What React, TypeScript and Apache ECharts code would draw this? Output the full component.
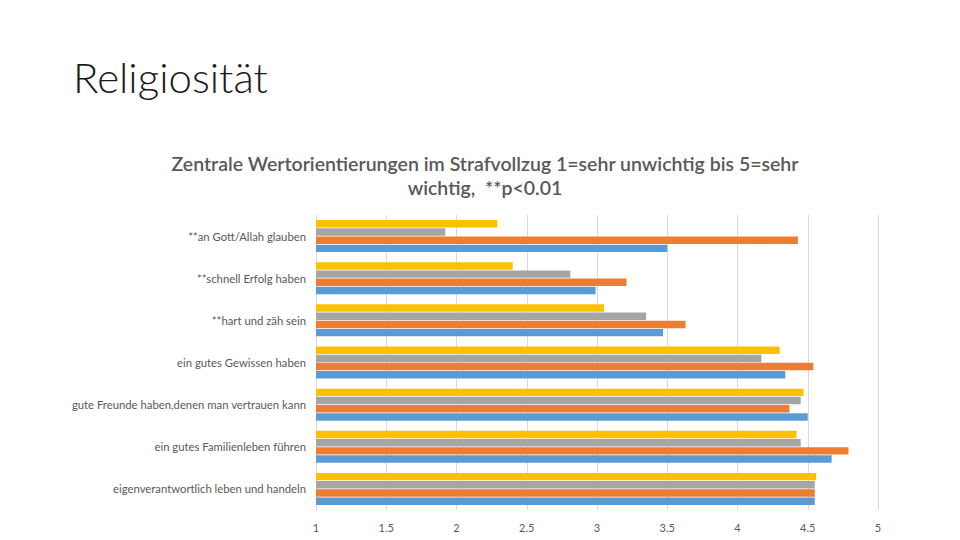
import React, { useEffect, useRef } from "react";
import * as echarts from "echarts";

const categories = [
  "**an Gott/Allah glauben",
  "**schnell Erfolg haben",
  "**hart und zäh sein",
  "ein gutes Gewissen haben",
  "gute Freunde haben,denen man vertrauen kann",
  "ein gutes Familienleben führen",
  "eigenverantwortlich leben und handeln",
];

const blueValues = [3.5, 2.99, 3.47, 4.34, 4.5, 4.67, 4.55];
const orangeValues = [4.43, 3.21, 3.63, 4.54, 4.37, 4.79, 4.55];
const grayValues = [1.92, 2.81, 3.35, 4.17, 4.45, 4.45, 4.55];
const yellowValues = [2.29, 2.4, 3.05, 4.3, 4.47, 4.42, 4.56];

const xTicks = { min: 1, max: 5, interval: 0.5 };

export default function App() {
  const ref = useRef<HTMLDivElement>(null);
  useEffect(() => {
    if (!ref.current) return;
    const chart = echarts.init(ref.current, null, { renderer: "svg" });
    const font = "Lato, 'Open Sans', sans-serif";
    const mk = (name: string, data: number[], color: string) => ({
      name,
      type: "bar",
      data,
      itemStyle: { color },
      barGap: "10%",
      barCategoryGap: "24%",
    });
    chart.setOption({
      animation: false,
      backgroundColor: "#ffffff",
      title: [
        {
          text: "Religiosität",
          left: 68,
          top: 51,
          textStyle: { fontFamily: font, fontSize: 42, fontWeight: 300, color: "#1a1a1a" },
        },
        {
          text: "Zentrale Wertorientierungen im Strafvollzug 1=sehr unwichtig bis 5=sehr\nwichtig,  **p<0.01",
          left: 480,
          top: 146,
          textAlign: "center",
          textStyle: {
            fontFamily: font,
            fontSize: 19.5,
            fontWeight: 600,
            color: "#595959",
            lineHeight: 24,
            align: "center",
          },
        },
      ],
      grid: { left: 316, right: 82, top: 215, bottom: 30, containLabel: false },
      xAxis: {
        type: "value",
        min: xTicks.min,
        max: xTicks.max,
        interval: xTicks.interval,
        axisLine: { show: false },
        axisTick: { show: false },
        splitLine: { lineStyle: { color: "#d9d9d9" } },
        axisLabel: { color: "#595959", fontSize: 11, fontFamily: font, margin: 12 },
      },
      yAxis: {
        type: "category",
        data: categories,
        inverse: true,
        axisLine: { show: true, lineStyle: { color: "#d9d9d9" } },
        axisTick: { show: false },
        axisLabel: { color: "#595959", fontSize: 11.3, fontFamily: font, margin: 10 },
      },
      series: [
        mk("Gelb", yellowValues, "#FFC000"),
        mk("Grau", grayValues, "#A5A5A5"),
        mk("Orange", orangeValues, "#ED7D31"),
        mk("Blau", blueValues, "#5B9BD5"),
      ],
    });
    return () => chart.dispose();
  }, []);
  return (
    <div
      ref={ref}
      style={{ position: "absolute", left: 0, top: 0, width: 960, height: 540 }}
    />
  );
}
